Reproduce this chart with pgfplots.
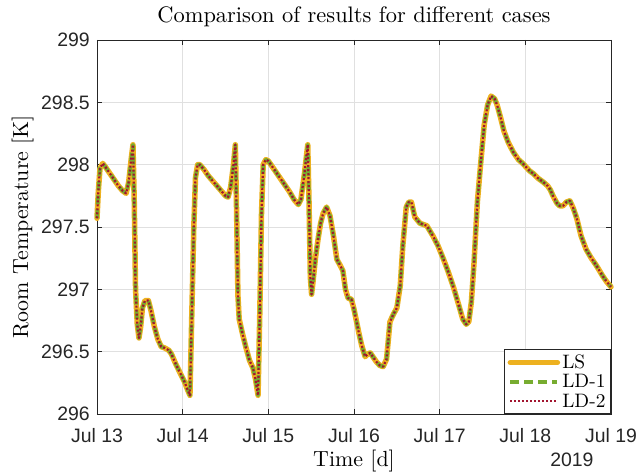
\documentclass[border=0pt]{standalone}
\usepackage{fontspec}
\setmainfont{lmroman10-regular.otf}
\newfontfamily\ticksf{Liberation Sans}
\usepackage{pgfplots}
\usepackage{pgfplotstable}
\pgfplotsset{compat=1.18}
\definecolor{cLS}{rgb}{0.929,0.694,0.125}
\definecolor{cLDa}{rgb}{0.466,0.674,0.188}
\definecolor{cLDb}{rgb}{0.635,0.078,0.184}
\definecolor{axgray}{rgb}{0.15,0.15,0.15}

\pgfplotstableread{
x y
0.000 297.57
0.015 297.78
0.035 297.97
0.067 298.01
0.10 297.98
0.15 297.93
0.20 297.88
0.25 297.83
0.30 297.79
0.34 297.77
0.37 297.86
0.40 298.05
0.42 298.16
0.435 297.7
0.45 297.0
0.47 296.72
0.49 296.61
0.51 296.70
0.53 296.85
0.56 296.91
0.60 296.91
0.63 296.83
0.67 296.70
0.71 296.60
0.75 296.54
0.79 296.53
0.84 296.51
0.87 296.48
0.92 296.40
0.97 296.33
1.02 296.26
1.06 296.19
1.085 296.15
1.10 296.6
1.13 297.5
1.15 297.90
1.175 298.00
1.20 298.00
1.25 297.96
1.30 297.91
1.35 297.87
1.40 297.83
1.45 297.79
1.50 297.75
1.53 297.74
1.56 297.82
1.59 297.98
1.615 298.16
1.63 297.6
1.645 296.95
1.66 296.76
1.70 296.64
1.74 296.53
1.78 296.43
1.82 296.37
1.85 296.28
1.88 296.15
1.90 296.8
1.92 297.6
1.94 298.00
1.97 298.04
2.00 298.03
2.05 297.98
2.10 297.93
2.15 297.88
2.20 297.83
2.25 297.78
2.30 297.72
2.35 297.68
2.38 297.72
2.42 297.92
2.46 298.16
2.475 297.7
2.49 297.1
2.505 296.96
2.52 297.05
2.55 297.25
2.58 297.40
2.61 297.53
2.64 297.61
2.68 297.66
2.72 297.59
2.76 297.43
2.80 297.24
2.84 297.19
2.87 297.15
2.90 297.00
2.93 296.93
2.97 296.92
3.00 296.84
3.03 296.74
3.06 296.64
3.09 296.55
3.13 296.46
3.16 296.48
3.19 296.49
3.23 296.45
3.26 296.42
3.30 296.39
3.34 296.38
3.38 296.44
3.42 296.74
3.46 296.80
3.50 296.85
3.54 297.03
3.57 297.35
3.61 297.66
3.64 297.70
3.67 297.70
3.71 297.58
3.77 297.53
3.85 297.51
3.92 297.43
3.98 297.35
4.04 297.25
4.10 297.14
4.16 297.02
4.22 296.88
4.27 296.76
4.31 296.72
4.34 296.74
4.37 296.90
4.40 297.20
4.44 297.70
4.48 298.02
4.52 298.32
4.56 298.48
4.60 298.55
4.64 298.53
4.67 298.48
4.71 298.38
4.75 298.27
4.80 298.18
4.86 298.10
4.92 298.04
4.97 298.01
5.01 297.98
5.05 297.95
5.09 297.93
5.15 297.89
5.21 297.86
5.26 297.83
5.29 297.80
5.33 297.74
5.37 297.69
5.40 297.67
5.44 297.67
5.48 297.70
5.52 297.71
5.56 297.65
5.60 297.57
5.65 297.43
5.71 297.32
5.77 297.25
5.83 297.19
5.90 297.11
5.95 297.06
6.00 297.02
}\datatbl

\begin{document}
\begin{tikzpicture}
\useasboundingbox (-97bp,-59bp) rectangle (540bp,414bp);
\begin{axis}[
  at={(0,0)}, anchor=south west,
  scale only axis, width=514bp, height=374bp,
  xmin=0, xmax=6, ymin=296, ymax=299,
  xtick={0,1,2,3,4,5,6},
  xticklabels={Jul 13,Jul 14,Jul 15,Jul 16,Jul 17,Jul 18,Jul 19},
  ytick={296,296.5,297,297.5,298,298.5,299},
  /pgf/number format/assume math mode=true,
  tick label style={font=\ticksf\fontsize{19.5}{22}\selectfont, text=axgray},
  xticklabel style={anchor=base, yshift=-28bp},
  yticklabel style={anchor=east, inner sep=0pt, xshift=-7bp},
  tick align=inside, major tick length=5bp,
  tick style={axgray, line width=0.8bp},
  axis line style={axgray, line width=0.8bp},
  grid=major, major grid style={black!12, line width=0.7bp},
  title={Comparison of results for different cases},
  title style={at={(axis description cs:0.5,1.0321)}, anchor=base, font=\fontsize{22.5}{26}\selectfont},
  xlabel={Time [d]},
  xlabel style={at={(axis description cs:0.5,-0.1417)}, anchor=base, font=\fontsize{22}{26}\selectfont},
  ylabel={Room Temperature [K]},
  ylabel style={at={(axis description cs:-0.1342,0.5)}, anchor=base, font=\fontsize{22}{26}\selectfont},
  legend cell align=left,
  legend image code/.code={\draw[#1] (0bp,0bp) -- (47bp,0bp);},
  legend style={at={(1,0)}, anchor=south east, draw=axgray, line width=0.6bp, fill=white,
     font=\fontsize{19.5}{24}\selectfont, inner xsep=3bp, inner ysep=3bp,
     nodes={inner sep=2.2bp}, row sep=0bp},
  clip=false,
]
\addplot[cLS, line width=5.5bp, line join=round, line cap=round] table[x=x,y=y]{\datatbl};
\addlegendentry{LS}
\addplot[cLDa, line width=3.6bp, dash pattern=on 9bp off 5bp, line join=round] table[x=x,y=y]{\datatbl};
\addlegendentry{LD-1}
\addplot[cLDb, line width=2.2bp, dash pattern=on 2bp off 2bp, line join=round] table[x=x,y=y]{\datatbl};
\addlegendentry{LD-2}
\node[anchor=base, font=\ticksf\fontsize{19.5}{22}\selectfont, text=axgray] at (axis description cs:0.924,-0.1417) {2019};
\end{axis}
\end{tikzpicture}
\end{document}
